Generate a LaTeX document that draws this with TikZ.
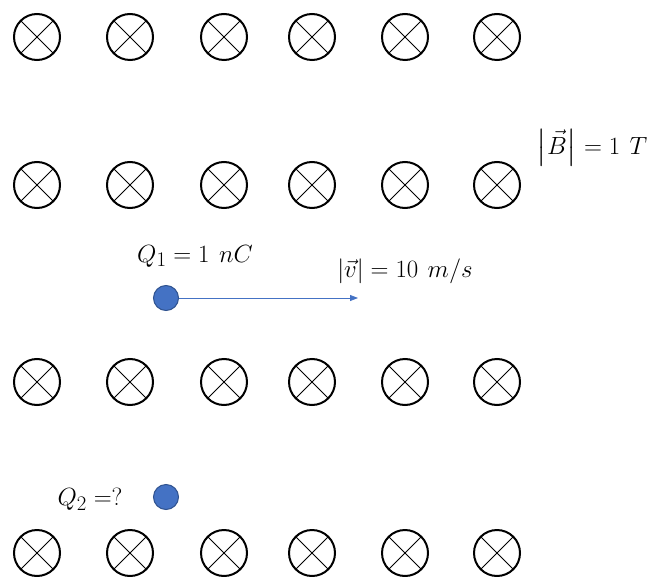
\documentclass[tikz,border=0pt]{standalone}
\usepackage{amsmath}
\usepackage{amssymb}
\usepackage{xcolor}
\usetikzlibrary{arrows.meta, positioning}

\definecolor{chargeblue}{RGB}{68,114,196}
\definecolor{chargeedge}{RGB}{47,82,143}

\tikzset{
  field/.style={circle, draw=black, line width=2pt, minimum size=46pt, inner sep=0pt,
    path picture={\draw[line width=1pt] (path picture bounding box.north west) -- (path picture bounding box.south east)
      (path picture bounding box.north east) -- (path picture bounding box.south west);}},
  charge/.style={circle, fill=chargeblue, draw=chargeedge, line width=1pt, minimum size=25pt, inner sep=0pt},
  label/.style={font=\fontsize{31}{36}\selectfont}
}

\begin{document}
\begin{tikzpicture}[>=Stealth, x=1pt, y=-1pt]

\useasboundingbox (0,0) rectangle (660,577);

% Field into the page
\foreach \x [count=\i] in {37,130,224,312,405,497} {
  \node[field] (fa\i) at (\x,37) {};
  \node[field] (fb\i) at (\x,185) {};
  \node[field] (fc\i) at (\x,382) {};
  \node[field] (fd\i) at (\x,553) {};
}

% Charges
\node[charge] (q1) at (166,298) {};
\node[charge] (q2) at (166,497) {};
\coordinate (vend) at (358,298);

% Labels
\node[label] (q1lab) at (195,256) {$Q_1 = 1\ nC$};
\node[label] (vlab) at (405,271) {$|\vec{v}| = 10\ m/s$};
\node[label] (blab) at (592,148) {$\bigl|\vec{B}\bigr| = 1\ T$};
\node[label] (q2lab) at (90,499) {$Q_2 =?$};

% Velocity
\draw[->, chargeblue, line width=0.8pt, -{Triangle[length=8pt,width=6pt]}] (q1) -- (vend);

\end{tikzpicture}
\end{document}
